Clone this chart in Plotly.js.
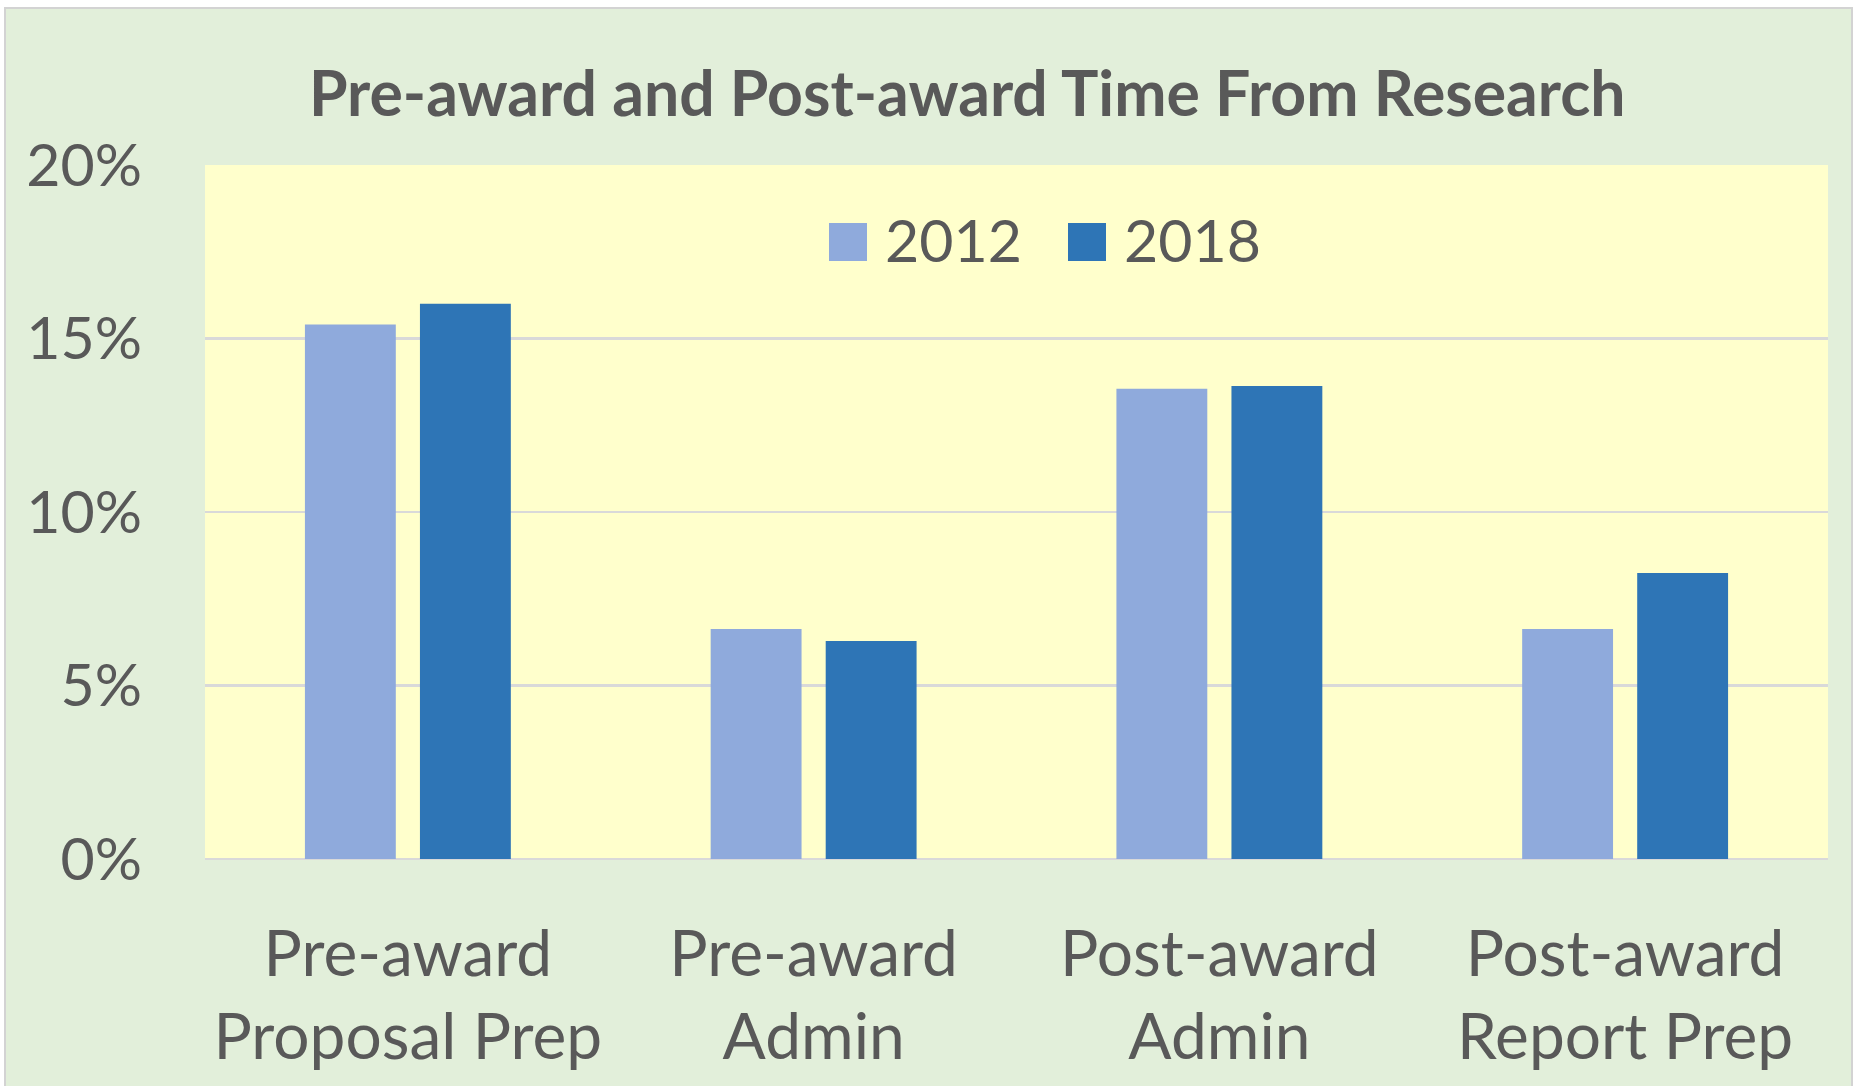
<!DOCTYPE html>
<html>
<head>
<meta charset="utf-8">
<script src="https://cdn.plot.ly/plotly-3.0.1.min.js"></script>
<style>
  html, body { margin: 0; padding: 0; background: #ffffff; width: 1864px; height: 1086px; overflow: hidden; }
  #frame { position: absolute; left: 4px; top: 7px; width: 1845px; height: 1077px; border: 2px solid #d3d3d3; background: #E2EFDA; }
  #chart { width: 1845px; height: 1077px; }
</style>
</head>
<body>
<div id="frame"><div id="chart"></div></div>
<script>
const categories = ['Pre-award<br>Proposal Prep', 'Pre-award<br>Admin', 'Post-award<br>Admin', 'Post-award<br>Report Prep'];
const seriesNames = ['2012', '2018'];
const values2012 = [0.154, 0.0663, 0.1355, 0.0663];
const values2018 = [0.160, 0.0628, 0.1363, 0.0824];
const colors = ['#8FAADC', '#2E75B6'];
const chartTitle = 'Pre-award and Post-award Time From Research';

const textColor = '#595959';

// plot area geometry (pixels inside the chart div)
const W = 1845, H = 1077;
const M = { l: 199, r: 23, t: 156, b: 227 };
const plotW = W - M.l - M.r, plotH = H - M.t - M.b;
// convert chart-div pixel positions to plot-paper fractions (for the legend keys)
const px = function (x) { return (x - M.l) / plotW; };
const py = function (y) { return (H - M.b - y) / plotH; };

const traces = [
  { type: 'bar', name: seriesNames[0], x: categories, y: values2012, marker: { color: colors[0] }, hoverinfo: 'none', showlegend: false },
  { type: 'bar', name: seriesNames[1], x: categories, y: values2018, marker: { color: colors[1] }, hoverinfo: 'none', showlegend: false }
];

// legend (drawn as swatches + text, sized like the reference's large keys)
const legendSwatchLeft = [823, 1062];
const legendTop = 214, legendSize = 38;
const shapes = seriesNames.map(function (n, i) {
  return {
    type: 'rect', xref: 'paper', yref: 'paper', layer: 'above',
    x0: px(legendSwatchLeft[i]), x1: px(legendSwatchLeft[i] + legendSize),
    y0: py(legendTop + legendSize), y1: py(legendTop),
    fillcolor: colors[i], line: { width: 0 }
  };
});
const annotations = seriesNames.map(function (n, i) {
  return {
    text: n, xref: 'paper', yref: 'paper', showarrow: false,
    x: px(legendSwatchLeft[i] + legendSize + 16), xanchor: 'left',
    y: py(legendTop + legendSize / 2 - 3), yanchor: 'middle',
    font: { size: 59, color: textColor }
  };
});

const layout = {
  width: W,
  height: H,
  paper_bgcolor: '#E2EFDA',
  plot_bgcolor: '#FFFFCC',
  font: { family: 'Lato, Carlito, sans-serif', color: textColor, size: 58 },
  margin: { l: M.l, r: M.r, t: M.t, b: M.b, pad: 0 },
  title: {
    text: '<b>' + chartTitle + '</b>',
    font: { family: 'Lato, sans-serif', size: 62.5, color: textColor },
    x: 0.521, xref: 'container', xanchor: 'center',
    y: 1 - (94 - 9) / 1077, yref: 'container', yanchor: 'middle'
  },
  barmode: 'group',
  bargap: 0.433,
  bargroupgap: 0.21,
  showlegend: false,
  shapes: shapes,
  annotations: annotations,
  xaxis: {
    type: 'category',
    showgrid: false,
    showline: false,
    zeroline: false,
    ticks: '',
    tickfont: { size: 64, color: textColor },
    ticklabelstandoff: 52
  },
  yaxis: {
    range: [0, 0.2],
    dtick: 0.05,
    tick0: 0,
    tickformat: '.0%',
    showgrid: true,
    gridcolor: '#D9D9D9',
    gridwidth: 2.5,
    zeroline: true,
    zerolinecolor: '#D9D9D9',
    zerolinewidth: 2.5,
    showline: false,
    ticks: '',
    tickfont: { size: 59, color: textColor },
    ticklabelstandoff: 62
  }
};

Plotly.newPlot('chart', traces, layout, { staticPlot: true, displayModeBar: false });
</script>
</body>
</html>
